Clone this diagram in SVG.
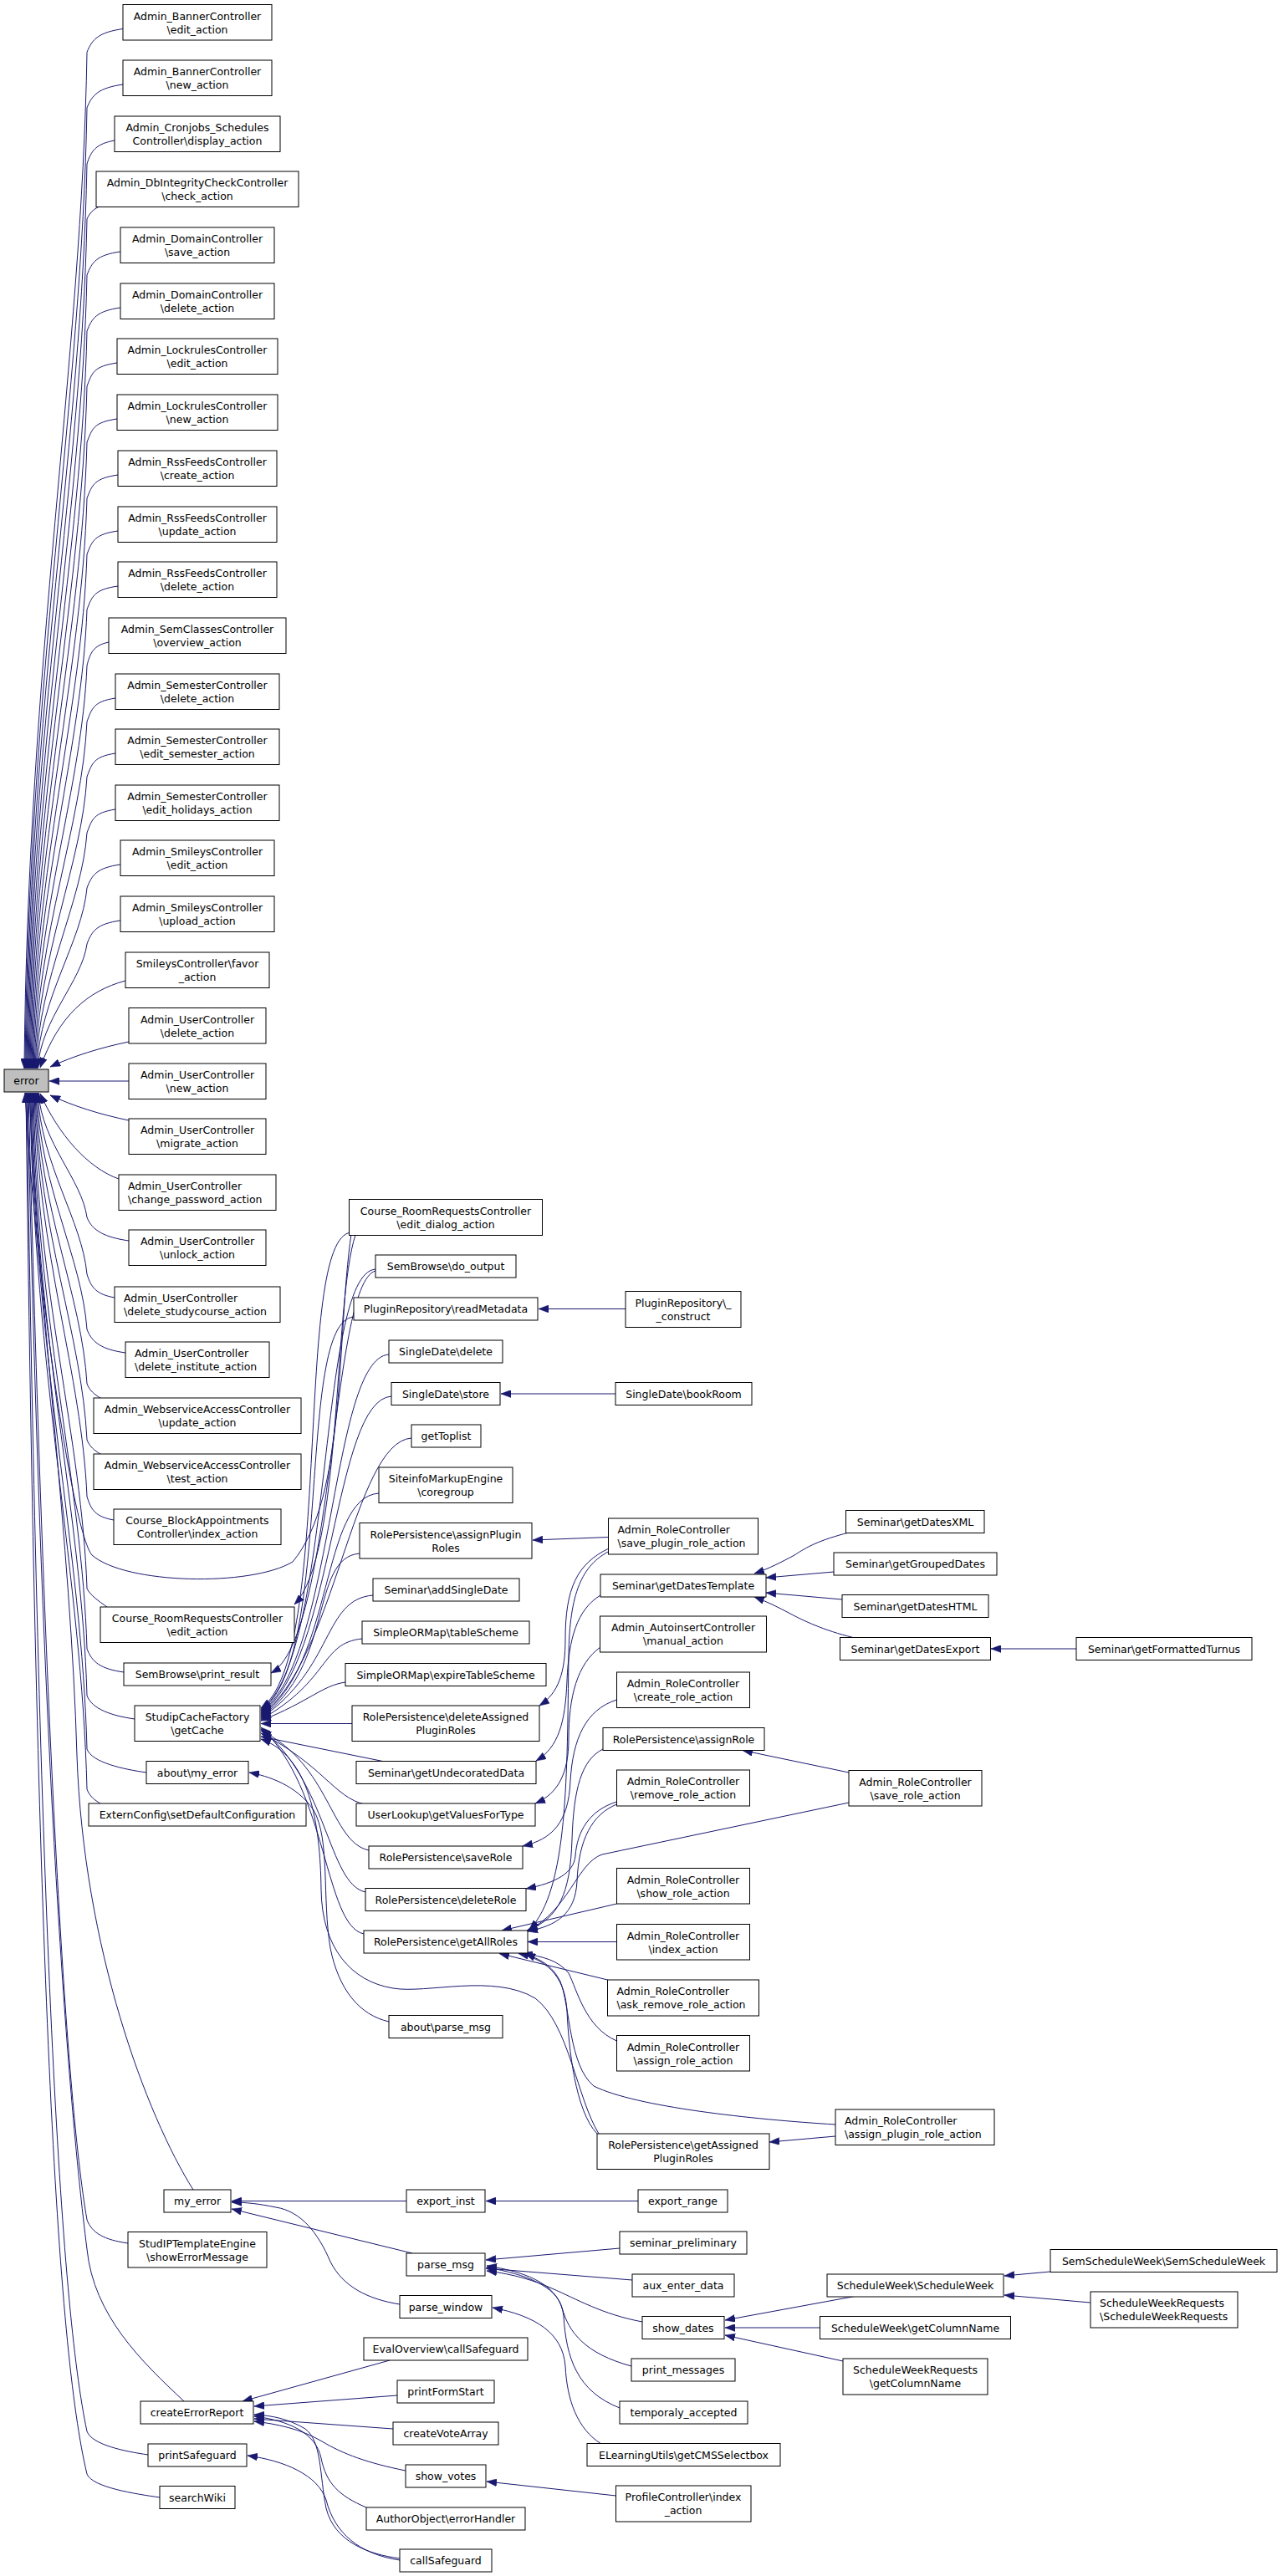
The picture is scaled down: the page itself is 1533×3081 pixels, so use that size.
<svg xmlns="http://www.w3.org/2000/svg" width="1533" height="3081" viewBox="0 0 1533 3081">
<style>
.node rect{fill:#fff;stroke:#000;stroke-width:1}
.node text{font-family:"DejaVu Sans","Liberation Sans",sans-serif;font-size:12.5px;fill:#000;text-anchor:middle}
.node text.l{text-anchor:start}
#error rect{fill:#bfbfbf}
#edges path{fill:none;stroke:#191970;stroke-width:1;marker-end:url(#ah)}
</style>
<defs>
<marker id="ah" viewBox="0 0 12 9" refX="12" refY="4.5" markerWidth="12" markerHeight="9" markerUnits="userSpaceOnUse" orient="auto"><path d="M0,0L12,4.5L0,9z" fill="#191970" stroke="#191970" stroke-width="0.5"/></marker>
</defs>
<rect width="1533" height="3081" fill="#fff"/>
<g id="edges">
<path d="M147,34.5 C119,38.5 110,46.5 104,62.5 C98,427 33,792 29,1278"/>
<path d="M147,101 C119,105 110,113 104,129 C98,474 34,818 30,1278"/>
<path d="M137,168 C115,172 109,180 104,196 C98,521 35,845 31,1278"/>
<path d="M118,247.5 C112,250 107,255 104,262 C98,567 36,872 32,1278"/>
<path d="M144,301 C116,305 110,313 104,329 C98,614 37,898 33,1278"/>
<path d="M144,368 C116,372 110,380 104,396 C98,661 38,925 34,1278"/>
<path d="M140,434 C112,438 110,446 104,462 C98,707 39,952 35,1278"/>
<path d="M140,501 C112,505 110,513 104,529 C98,754 40,978 36,1278"/>
<path d="M141,568 C113,572 110,580 104,596 C98,801 41,1005 37,1278"/>
<path d="M141,635 C113,639 110,647 104,663 C98,848 42,1032 38,1278"/>
<path d="M141,701 C113,705 110,713 104,729 C98,894 43,1058 39,1278"/>
<path d="M130,768 C112,772 108,780 104,796 C98,941 44,1085 40,1278"/>
<path d="M138,835 C112,839 110,847 104,863 C98,988 45,1112 41,1278"/>
<path d="M138,901 C112,905 110,913 104,929 C98,1034 46,1138 42,1278"/>
<path d="M138,968 C112,972 110,980 104,996 C98,1081 47,1165 43,1278"/>
<path d="M144,1034 C116,1038 110,1046 104,1062 C98,1127 48,1192 44,1278"/>
<path d="M144,1101 C116,1105 110,1113 104,1129 C98,1174 49,1218 45,1278"/>
<path d="M150,1173 C105,1185 70,1215 48,1277"/>
<path d="M154,1246 C120,1253 88,1263 60,1276"/>
<path d="M154,1293 L59,1293"/>
<path d="M154,1340 C120,1333 88,1323 60,1310"/>
<path d="M142,1410 C105,1397 70,1357 48,1308"/>
<path d="M154,1484 C126,1480 110,1472 104,1456 C98,1411 50,1367 46,1307"/>
<path d="M137,1552 C115,1548 109,1540 104,1524 C98,1459 49,1394 45,1307"/>
<path d="M150,1618 C122,1614 110,1606 104,1590 C98,1505 48,1420 44,1307"/>
<path d="M120,1672 C113,1668 107,1663 104,1655 C98,1551 47,1446 43,1307"/>
<path d="M120,1739 C113,1735 107,1730 104,1722 C98,1598 46,1473 42,1307"/>
<path d="M136,1818 C114,1814 109,1806 104,1790 C98,1645 45,1500 41,1307"/>
<path d="M128,1922 C118,1915 108,1908 104,1900 C98,1722 44,1544 40,1307"/>
<path d="M148,2000 C120,1996 110,1988 104,1972 C98,1773 43,1573 39,1307"/>
<path d="M161,2056 C133,2052 110,2044 104,2028 C98,1812 42,1595 38,1307"/>
<path d="M175,2120 C147,2116 110,2108 104,2092 C98,1857 41,1621 37,1307"/>
<path d="M120,2157 C113,2153 107,2148 104,2140 C98,1890 40,1640 36,1307"/>
<path d="M231,2619 C175,2530 100,2330 92,2100 C85,1850 45,1550 35,1307"/>
<path d="M153,2683 C125,2679 110,2671 104,2655 C78,2505 53,2055 34,1307"/>
<path d="M220,2872 C170,2825 112,2770 104,2690 C80,2500 50,2100 33,1307"/>
<path d="M177,2936 C149,2932 110,2924 104,2908 C72,2758 47,2308 32,1307"/>
<path d="M191,2987 C163,2983 110,2975 104,2959 C68,2809 44,2359 31,1307"/>
<path d="M420,1476 C402,1600 415,1790 350,1868 C300,1898 150,1895 110,1860 C85,1830 40,1500 30,1307"/>
<path d="M420,1474 C350,1479 400,1983 312,2043"/>
<path d="M449,1518 C379,1523 400,1984.5 312,2044.5"/>
<path d="M423,1575 C353,1580 400,1986 312,2046"/>
<path d="M465,1620 C395,1625 400,1987.5 312,2047.5"/>
<path d="M468,1670 C398,1675 400,1989 312,2049"/>
<path d="M492,1720 C422,1725 400,1990.5 312,2050.5"/>
<path d="M453,1786 C383,1791 400,1992 312,2052"/>
<path d="M430,1858 C370,1863 400,1993.5 312,2053.5"/>
<path d="M446,1908 C386,1913 400,1995 312,2055"/>
<path d="M433,1960 C383,1965 395,2010 312,2056.5"/>
<path d="M413,2012 C385,2016 370,2035 312,2058"/>
<path d="M421,2061.5 L312,2061.5"/>
<path d="M460,2107 L312,2077"/>
<path d="M436,2158 C400,2150 385,2110 312,2073"/>
<path d="M441,2213 C395,2203 395,2110 312,2070"/>
<path d="M437,2263 C392,2253 392,2130 312,2068"/>
<path d="M435,2313 C388,2303 392,2140 312,2066"/>
<path d="M716,2552 C690,2510 680,2420 640,2390 C590,2360 510,2385 470,2378 C420,2370 385,2330 384,2260 C383,2180 370,2100 312,2080"/>
<path d="M425,1477 C398,1560 410,1860 352,1919"/>
<path d="M449,1520 C395,1535 400,1960 324,2001"/>
<path d="M465,2418 C430,2410 405,2380 395,2330 C385,2270 395,2200 375,2165 C355,2135 320,2124 298,2120"/>
<path d="M748,1565.5 L644,1565.5"/>
<path d="M736,1667 L599,1667"/>
<path d="M727.5,1838.5 L637,1842"/>
<path d="M728,1852 C690,1870 676,1900 676,1960 C676,2000 668,2025 645,2040"/>
<path d="M729,1855 C696,1872 681,1905 680,1980 C678,2120 680,2260 633,2308"/>
<path d="M718,1908 C690,1925 680,1960 678,2010 C676,2060 668,2090 641,2106"/>
<path d="M718,1970 C690,1990 680,2030 680,2080 C680,2120 668,2145 640,2157"/>
<path d="M737.5,2033 C700,2045 685,2080 682,2130 C680,2180 660,2200 625,2208"/>
<path d="M721,2092 C695,2105 686,2140 684,2200 C682,2265 668,2295 630,2309"/>
<path d="M737.5,2155 C705,2165 690,2190 688,2220 C686,2240 665,2252 629,2259"/>
<path d="M737.5,2158 C708,2170 692,2200 690,2250 C688,2290 665,2303 631,2310"/>
<path d="M737.5,2277 L600,2309"/>
<path d="M737.5,2322.5 L631,2322.5"/>
<path d="M726.5,2368 L597,2336.5"/>
<path d="M737.5,2441 C700,2425 690,2380 680,2360 C668,2345 650,2340 625,2336.5"/>
<path d="M714,2552 C688,2525 680,2450 678,2405 C676,2370 660,2345 620,2336.5"/>
<path d="M1015,2120 L888,2093.5"/>
<path d="M1015,2156 L720,2218 C690,2228 680,2285 631,2309"/>
<path d="M999,2541 C900,2535 760,2520 710,2495 C680,2470 682,2400 670,2370 C660,2350 645,2343 628,2337"/>
<path d="M999,2555 L920,2562"/>
<path d="M1015,1833 C980,1842 965,1850 950,1860 C935,1868 920,1876 902,1882"/>
<path d="M997,1880 L916,1887"/>
<path d="M1007,1913 L916,1905"/>
<path d="M1020,1958.5 C985,1950 960,1938 945,1930 C930,1922 918,1916 902,1910"/>
<path d="M1287,1972 L1185,1972"/>
<path d="M763,2632.5 L581,2632.5"/>
<path d="M486,2632.5 L277,2632.5"/>
<path d="M493,2695 L277,2642"/>
<path d="M478,2756 C440,2750 410,2735 395,2705 C380,2670 360,2645 330,2640 C310,2636 295,2634 277,2634"/>
<path d="M741,2689 L581,2703"/>
<path d="M756,2727 L581,2713"/>
<path d="M768,2777 C720,2768 690,2750 660,2737 C640,2728 615,2720 582,2716"/>
<path d="M755,2830 C700,2815 680,2790 672,2760 C665,2735 630,2720 582,2712"/>
<path d="M741,2880 C690,2860 677,2820 674,2770 C670,2735 635,2718 582,2710"/>
<path d="M719,2923 C690,2905 678,2870 676,2830 C673,2790 640,2770 589,2760"/>
<path d="M1022,2746.5 L867,2775"/>
<path d="M981,2784 L867,2784"/>
<path d="M1008,2824 L867,2793"/>
<path d="M1256,2717 L1201,2722"/>
<path d="M1304,2754 L1201,2745"/>
<path d="M466,2823 L290,2872"/>
<path d="M475,2865 L304,2878"/>
<path d="M470,2905 L304,2893"/>
<path d="M485,2955 C440,2946 410,2935 385,2920 C360,2905 330,2899 304,2896"/>
<path d="M438,2999 C405,2985 390,2970 384,2940 C378,2910 345,2895 304,2890"/>
<path d="M478,3060 C440,3055 400,3040 390,3000 C382,2960 385,2920 365,2905 C345,2893 325,2889 304,2888"/>
<path d="M478,3062 C430,3055 400,3030 390,2990 C380,2960 340,2943 296,2937"/>
<path d="M736.5,2985 L582,2968"/>
</g>
<g id="error" class="node"><rect x="5" y="1279" width="53" height="27"/><text x="31.5" y="1297">error</text></g>
<g id="n1" class="node"><rect x="147" y="5.5" width="178" height="42.5"/><text x="236" y="23.5">Admin_BannerController</text><text x="236" y="39.5">\edit_action</text></g>
<g id="n2" class="node"><rect x="147" y="72" width="178" height="42.5"/><text x="236" y="90">Admin_BannerController</text><text x="236" y="106">\new_action</text></g>
<g id="n3" class="node"><rect x="137" y="139" width="198" height="42.5"/><text x="236" y="157">Admin_Cronjobs_Schedules</text><text x="236" y="173">Controller\display_action</text></g>
<g id="n4" class="node"><rect x="115" y="205" width="242" height="42.5"/><text x="236" y="223">Admin_DbIntegrityCheckController</text><text x="236" y="239">\check_action</text></g>
<g id="n5" class="node"><rect x="144" y="272" width="184" height="42.5"/><text x="236" y="290">Admin_DomainController</text><text x="236" y="306">\save_action</text></g>
<g id="n6" class="node"><rect x="144" y="339" width="184" height="42.5"/><text x="236" y="357">Admin_DomainController</text><text x="236" y="373">\delete_action</text></g>
<g id="n7" class="node"><rect x="140" y="405" width="192" height="42.5"/><text x="236" y="423">Admin_LockrulesController</text><text x="236" y="439">\edit_action</text></g>
<g id="n8" class="node"><rect x="140" y="472" width="192" height="42.5"/><text x="236" y="490">Admin_LockrulesController</text><text x="236" y="506">\new_action</text></g>
<g id="n9" class="node"><rect x="141" y="539" width="190" height="42.5"/><text x="236" y="557">Admin_RssFeedsController</text><text x="236" y="573">\create_action</text></g>
<g id="n10" class="node"><rect x="141" y="606" width="190" height="42.5"/><text x="236" y="624">Admin_RssFeedsController</text><text x="236" y="640">\update_action</text></g>
<g id="n11" class="node"><rect x="141" y="672" width="190" height="42.5"/><text x="236" y="690">Admin_RssFeedsController</text><text x="236" y="706">\delete_action</text></g>
<g id="n12" class="node"><rect x="130" y="739" width="212" height="42.5"/><text x="236" y="757">Admin_SemClassesController</text><text x="236" y="773">\overview_action</text></g>
<g id="n13" class="node"><rect x="138" y="806" width="196" height="42.5"/><text x="236" y="824">Admin_SemesterController</text><text x="236" y="840">\delete_action</text></g>
<g id="n14" class="node"><rect x="138" y="872" width="196" height="42.5"/><text x="236" y="890">Admin_SemesterController</text><text x="236" y="906">\edit_semester_action</text></g>
<g id="n15" class="node"><rect x="138" y="939" width="196" height="42.5"/><text x="236" y="957">Admin_SemesterController</text><text x="236" y="973">\edit_holidays_action</text></g>
<g id="n16" class="node"><rect x="144" y="1005" width="184" height="42.5"/><text x="236" y="1023">Admin_SmileysController</text><text x="236" y="1039">\edit_action</text></g>
<g id="n17" class="node"><rect x="144" y="1072" width="184" height="42.5"/><text x="236" y="1090">Admin_SmileysController</text><text x="236" y="1106">\upload_action</text></g>
<g id="n18" class="node"><rect x="150" y="1139" width="172" height="42.5"/><text x="236" y="1157">SmileysController\favor</text><text x="236" y="1173">_action</text></g>
<g id="n19" class="node"><rect x="154" y="1205.5" width="164" height="42.5"/><text x="236" y="1223.5">Admin_UserController</text><text x="236" y="1239.5">\delete_action</text></g>
<g id="n20" class="node"><rect x="154" y="1272" width="164" height="42.5"/><text x="236" y="1290">Admin_UserController</text><text x="236" y="1306">\new_action</text></g>
<g id="n21" class="node"><rect x="154" y="1338" width="164" height="42.5"/><text x="236" y="1356">Admin_UserController</text><text x="236" y="1372">\migrate_action</text></g>
<g id="n22" class="node"><rect x="142" y="1405" width="188" height="42.5"/><text class="l" x="153" y="1423">Admin_UserController</text><text class="l" x="153" y="1439">\change_password_action</text></g>
<g id="n23" class="node"><rect x="154" y="1471" width="164" height="42.5"/><text x="236" y="1489">Admin_UserController</text><text x="236" y="1505">\unlock_action</text></g>
<g id="n24" class="node"><rect x="137" y="1539" width="198" height="42.5"/><text class="l" x="148" y="1557">Admin_UserController</text><text class="l" x="148" y="1573">\delete_studycourse_action</text></g>
<g id="n25" class="node"><rect x="150" y="1605" width="172" height="42.5"/><text class="l" x="161" y="1623">Admin_UserController</text><text class="l" x="161" y="1639">\delete_institute_action</text></g>
<g id="n26" class="node"><rect x="112" y="1672" width="248" height="42.5"/><text x="236" y="1690">Admin_WebserviceAccessController</text><text x="236" y="1706">\update_action</text></g>
<g id="n27" class="node"><rect x="112" y="1739" width="248" height="42.5"/><text x="236" y="1757">Admin_WebserviceAccessController</text><text x="236" y="1773">\test_action</text></g>
<g id="n28" class="node"><rect x="136" y="1805" width="200" height="42.5"/><text x="236" y="1823">Course_BlockAppointments</text><text x="236" y="1839">Controller\index_action</text></g>
<g id="n29" class="node"><rect x="120" y="1922" width="232" height="42.5"/><text x="236" y="1940">Course_RoomRequestsController</text><text x="236" y="1956">\edit_action</text></g>
<g id="n30" class="node"><rect x="148" y="1989" width="176" height="27"/><text x="236" y="2007">SemBrowse\print_result</text></g>
<g id="n31" class="node"><rect x="161" y="2040" width="150" height="42.5"/><text x="236" y="2058">StudipCacheFactory</text><text x="236" y="2074">\getCache</text></g>
<g id="n32" class="node"><rect x="175" y="2106.5" width="122" height="27"/><text x="236" y="2124.5">about\my_error</text></g>
<g id="n33" class="node"><rect x="106" y="2157" width="260" height="27"/><text x="236" y="2175">ExternConfig\setDefaultConfiguration</text></g>
<g id="n34" class="node"><rect x="196" y="2619" width="80" height="27"/><text x="236" y="2637">my_error</text></g>
<g id="n35" class="node"><rect x="153" y="2669.5" width="166" height="42.5"/><text x="236" y="2687.5">StudIPTemplateEngine</text><text x="236" y="2703.5">\showErrorMessage</text></g>
<g id="n36" class="node"><rect x="168" y="2872" width="135" height="27"/><text x="235.5" y="2890">createErrorReport</text></g>
<g id="n37" class="node"><rect x="177" y="2923" width="118" height="27"/><text x="236" y="2941">printSafeguard</text></g>
<g id="n38" class="node"><rect x="191" y="2973.5" width="90" height="27"/><text x="236" y="2991.5">searchWiki</text></g>
<g id="c2a" class="node"><rect x="417.5" y="1434.5" width="231" height="43"/><text x="533" y="1452.5">Course_RoomRequestsController</text><text x="533" y="1468.5">\edit_dialog_action</text></g>
<g id="c2b" class="node"><rect x="449" y="1501" width="168" height="27"/><text x="533" y="1519">SemBrowse\do_output</text></g>
<g id="c2c" class="node"><rect x="423" y="1552" width="220" height="27"/><text x="533" y="1570">PluginRepository\readMetadata</text></g>
<g id="c2d" class="node"><rect x="465" y="1603" width="136" height="27"/><text x="533" y="1621">SingleDate\delete</text></g>
<g id="c2e" class="node"><rect x="468" y="1653.5" width="130" height="27"/><text x="533" y="1671.5">SingleDate\store</text></g>
<g id="c2f" class="node"><rect x="492" y="1704" width="83" height="27"/><text x="533.5" y="1722">getToplist</text></g>
<g id="c2g" class="node"><rect x="453" y="1755" width="160" height="42.5"/><text x="533" y="1773">SiteinfoMarkupEngine</text><text x="533" y="1789">\coregroup</text></g>
<g id="c2h" class="node"><rect x="430" y="1821.5" width="206" height="42.5"/><text x="533" y="1839.5">RolePersistence\assignPlugin</text><text x="533" y="1855.5">Roles</text></g>
<g id="c2i" class="node"><rect x="446" y="1888" width="175" height="27"/><text x="533.5" y="1906">Seminar\addSingleDate</text></g>
<g id="c2j" class="node"><rect x="433" y="1939" width="200" height="27"/><text x="533" y="1957">SimpleORMap\tableScheme</text></g>
<g id="c2k" class="node"><rect x="413" y="1989.5" width="240" height="27"/><text x="533" y="2007.5">SimpleORMap\expireTableScheme</text></g>
<g id="c2l" class="node"><rect x="421" y="2040" width="224" height="42.5"/><text x="533" y="2058">RolePersistence\deleteAssigned</text><text x="533" y="2074">PluginRoles</text></g>
<g id="c2m" class="node"><rect x="426" y="2106.5" width="215" height="27"/><text x="533.5" y="2124.5">Seminar\getUndecoratedData</text></g>
<g id="c2n" class="node"><rect x="426" y="2157" width="214" height="27"/><text x="533" y="2175">UserLookup\getValuesForType</text></g>
<g id="c2o" class="node"><rect x="441" y="2208" width="184" height="27"/><text x="533" y="2226">RolePersistence\saveRole</text></g>
<g id="c2p" class="node"><rect x="437" y="2258.5" width="192" height="27"/><text x="533" y="2276.5">RolePersistence\deleteRole</text></g>
<g id="c2q" class="node"><rect x="435" y="2309" width="196" height="27"/><text x="533" y="2327">RolePersistence\getAllRoles</text></g>
<g id="c2r" class="node"><rect x="465" y="2410.5" width="136" height="27"/><text x="533" y="2428.5">about\parse_msg</text></g>
<g id="c2s" class="node"><rect x="486" y="2619" width="94" height="27"/><text x="533" y="2637">export_inst</text></g>
<g id="c2t" class="node"><rect x="486" y="2695" width="94" height="27"/><text x="533" y="2713">parse_msg</text></g>
<g id="c2u" class="node"><rect x="478" y="2745.5" width="110" height="27"/><text x="533" y="2763.5">parse_window</text></g>
<g id="c2v" class="node"><rect x="435" y="2796" width="196" height="27"/><text x="533" y="2814">EvalOverview\callSafeguard</text></g>
<g id="c2w" class="node"><rect x="475" y="2847" width="116" height="27"/><text x="533" y="2865">printFormStart</text></g>
<g id="c2x" class="node"><rect x="470" y="2897" width="126" height="27"/><text x="533" y="2915">createVoteArray</text></g>
<g id="c2y" class="node"><rect x="485" y="2948" width="96" height="27"/><text x="533" y="2966">show_votes</text></g>
<g id="c2z" class="node"><rect x="438" y="2999" width="190" height="27"/><text x="533" y="3017">AuthorObject\errorHandler</text></g>
<g id="c2aa" class="node"><rect x="478" y="3049" width="110" height="27"/><text x="533" y="3067">callSafeguard</text></g>
<g id="c3a" class="node"><rect x="748" y="1544.5" width="138" height="43"/><text x="817" y="1562.5">PluginRepository\_</text><text x="817" y="1578.5">_construct</text></g>
<g id="c3b" class="node"><rect x="736" y="1653.5" width="163" height="27"/><text x="817.5" y="1671.5">SingleDate\bookRoom</text></g>
<g id="c3c" class="node"><rect x="727.5" y="1816" width="179" height="43"/><text class="l" x="738.5" y="1834">Admin_RoleController</text><text class="l" x="738.5" y="1850">\save_plugin_role_action</text></g>
<g id="c3d" class="node"><rect x="718" y="1883" width="198" height="27"/><text x="817" y="1901">Seminar\getDatesTemplate</text></g>
<g id="c3e" class="node"><rect x="717.5" y="1933" width="199" height="43"/><text x="817" y="1951">Admin_AutoinsertController</text><text x="817" y="1967">\manual_action</text></g>
<g id="c3f" class="node"><rect x="737.5" y="2000" width="159" height="42.5"/><text x="817" y="2018">Admin_RoleController</text><text x="817" y="2034">\create_role_action</text></g>
<g id="c3g" class="node"><rect x="721" y="2066.5" width="193" height="27"/><text x="817.5" y="2084.5">RolePersistence\assignRole</text></g>
<g id="c3h" class="node"><rect x="737.5" y="2117" width="159" height="43"/><text x="817" y="2135">Admin_RoleController</text><text x="817" y="2151">\remove_role_action</text></g>
<g id="c3i" class="node"><rect x="737.5" y="2234.5" width="159" height="42.5"/><text x="817" y="2252.5">Admin_RoleController</text><text x="817" y="2268.5">\show_role_action</text></g>
<g id="c3j" class="node"><rect x="737.5" y="2301.5" width="159" height="42.5"/><text x="817" y="2319.5">Admin_RoleController</text><text x="817" y="2335.5">\index_action</text></g>
<g id="c3k" class="node"><rect x="726.5" y="2368" width="181" height="43"/><text class="l" x="737.5" y="2386">Admin_RoleController</text><text class="l" x="737.5" y="2402">\ask_remove_role_action</text></g>
<g id="c3l" class="node"><rect x="737.5" y="2434.5" width="159" height="42.5"/><text x="817" y="2452.5">Admin_RoleController</text><text x="817" y="2468.5">\assign_role_action</text></g>
<g id="c3m" class="node"><rect x="714" y="2552" width="206" height="42.5"/><text x="817" y="2570">RolePersistence\getAssigned</text><text x="817" y="2586">PluginRoles</text></g>
<g id="c3n" class="node"><rect x="763" y="2619" width="107" height="27"/><text x="816.5" y="2637">export_range</text></g>
<g id="c3o" class="node"><rect x="741" y="2669" width="152" height="27"/><text x="817" y="2687">seminar_preliminary</text></g>
<g id="c3p" class="node"><rect x="756" y="2720" width="122" height="27"/><text x="817" y="2738">aux_enter_data</text></g>
<g id="c3q" class="node"><rect x="768" y="2770.5" width="98" height="27"/><text x="817" y="2788.5">show_dates</text></g>
<g id="c3r" class="node"><rect x="755" y="2821" width="124" height="27"/><text x="817" y="2839">print_messages</text></g>
<g id="c3s" class="node"><rect x="741" y="2872" width="153" height="27"/><text x="817.5" y="2890">temporaly_accepted</text></g>
<g id="c3t" class="node"><rect x="702" y="2922.5" width="231" height="27"/><text x="817.5" y="2940.5">ELearningUtils\getCMSSelectbox</text></g>
<g id="c3u" class="node"><rect x="736.5" y="2973" width="161.5" height="43"/><text x="817" y="2991">ProfileController\index</text><text x="817" y="3007">_action</text></g>
<g id="c4a" class="node"><rect x="1011.5" y="1806.5" width="165.5" height="27"/><text x="1094.5" y="1824.5">Seminar\getDatesXML</text></g>
<g id="c4b" class="node"><rect x="997" y="1857" width="195" height="27"/><text x="1094.5" y="1875">Seminar\getGroupedDates</text></g>
<g id="c4c" class="node"><rect x="1007" y="1907.5" width="175" height="27"/><text x="1094.5" y="1925.5">Seminar\getDatesHTML</text></g>
<g id="c4d" class="node"><rect x="1004.5" y="1958.5" width="180" height="27"/><text x="1094.5" y="1976.5">Seminar\getDatesExport</text></g>
<g id="c4e" class="node"><rect x="1015" y="2117.5" width="159" height="42.5"/><text x="1094.5" y="2135.5">Admin_RoleController</text><text x="1094.5" y="2151.5">\save_role_action</text></g>
<g id="c4f" class="node"><rect x="999" y="2523" width="190" height="42.5"/><text class="l" x="1010" y="2541">Admin_RoleController</text><text class="l" x="1010" y="2557">\assign_plugin_role_action</text></g>
<g id="c4g" class="node"><rect x="989" y="2720" width="211" height="27"/><text x="1094.5" y="2738">ScheduleWeek\ScheduleWeek</text></g>
<g id="c4h" class="node"><rect x="980.5" y="2770.5" width="228" height="27"/><text x="1094.5" y="2788.5">ScheduleWeek\getColumnName</text></g>
<g id="c4i" class="node"><rect x="1008" y="2821" width="173" height="43"/><text x="1094.5" y="2839">ScheduleWeekRequests</text><text x="1094.5" y="2855">\getColumnName</text></g>
<g id="c5a" class="node"><rect x="1287" y="1958.5" width="210" height="27"/><text x="1392" y="1976.5">Seminar\getFormattedTurnus</text></g>
<g id="c5b" class="node"><rect x="1256" y="2690.5" width="271" height="27"/><text x="1391.5" y="2708.5">SemScheduleWeek\SemScheduleWeek</text></g>
<g id="c5c" class="node"><rect x="1304" y="2741" width="176" height="43"/><text class="l" x="1315" y="2759">ScheduleWeekRequests</text><text class="l" x="1315" y="2775">\ScheduleWeekRequests</text></g>
</svg>
